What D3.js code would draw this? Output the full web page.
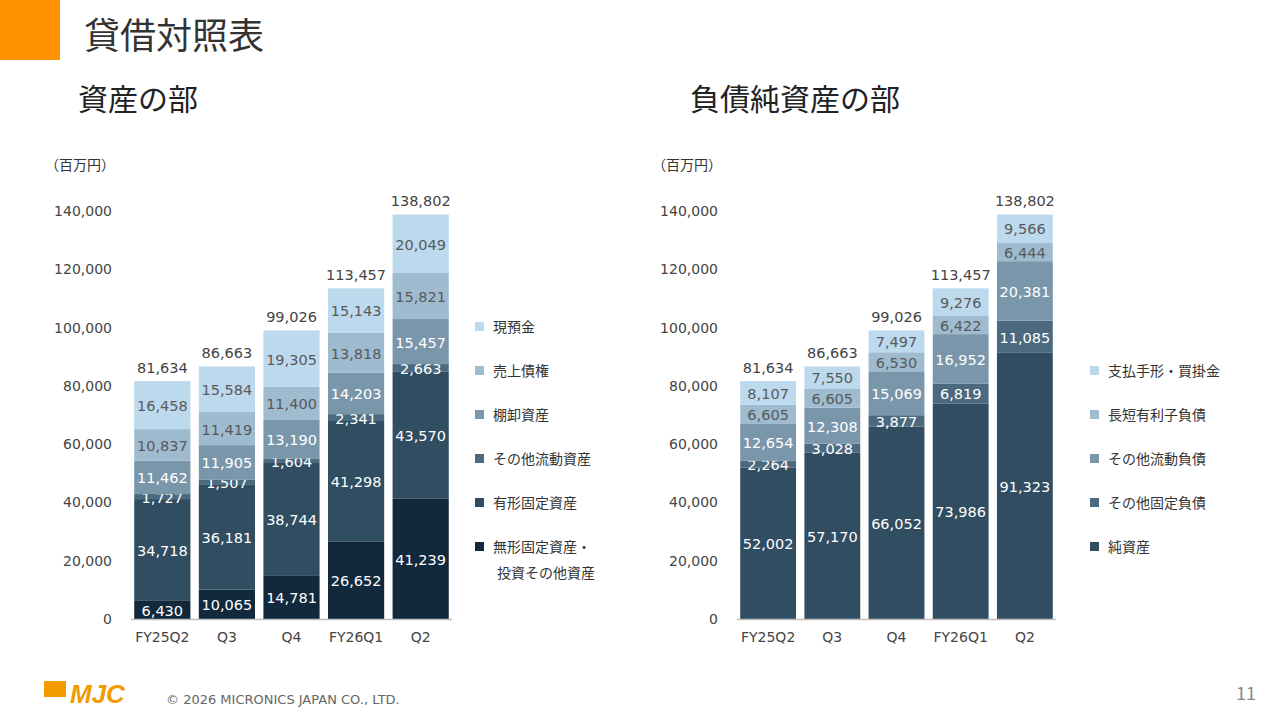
<!DOCTYPE html>
<html><head><meta charset="utf-8">
<script src="https://cdn.jsdelivr.net/npm/d3@7"></script>
<style>body{margin:0;background:#fff;font-family:"Noto Sans CJK JP","Noto Sans",sans-serif;}</style>
</head><body>
<div id="chart"></div>
<script>
var periods = ["FY25Q2", "Q3", "Q4", "FY26Q1", "Q2"];
var yTicks = [0, 20000, 40000, 60000, 80000, 100000, 120000, 140000];

// assets, bottom to top
var assetNames = ["無形固定資産・投資その他資産", "有形固定資産", "その他流動資産", "棚卸資産", "売上債権", "現預金"];
var intangible = [6430, 10065, 14781, 26652, 41239];
var tangible = [34718, 36181, 38744, 41298, 43570];
var otherCurAssets = [1727, 1507, 1604, 2341, 2663];
var inventory = [11462, 11905, 13190, 14203, 15457];
var receivables = [10837, 11419, 11400, 13818, 15821];
var cash = [16458, 15584, 19305, 15143, 20049];
var assetTotals = [81634, 86663, 99026, 113457, 138802];

// liabilities + net assets, bottom to top
var liabNames = ["純資産", "その他固定負債", "その他流動負債", "長短有利子負債", "支払手形・買掛金"];
var netAssets = [52002, 57170, 66052, 73986, 91323];
var otherFixedLiab = [2264, 3028, 3877, 6819, 11085];
var otherCurLiab = [12654, 12308, 15069, 16952, 20381];
var debt = [6605, 6605, 6530, 6422, 6444];
var payables = [8107, 7550, 7497, 9276, 9566];
var liabTotals = [81634, 86663, 99026, 113457, 138802];

var svg = d3.select("#chart").append("svg").attr("width", 1280).attr("height", 720);

svg.append("rect").attr("x", 0).attr("y", 0).attr("width", 60).attr("height", 60).attr("fill", "#ff9200");
svg.append("text").attr("x", 84).attr("y", 49).attr("font-size", 36).attr("fill", "#333").text("貸借対照表");
svg.append("text").attr("x", 78).attr("y", 110).attr("font-size", 30).attr("fill", "#222").text("資産の部");
svg.append("text").attr("x", 690).attr("y", 110).attr("font-size", 30).attr("fill", "#222").text("負債純資産の部");

var fmt = d3.format(",");

function drawChart(opt) {
  var g = svg.append("g");
  var y = d3.scaleLinear().domain([0, 140000]).range([619, 211]);
  var x = d3.scaleBand().domain(periods).range([opt.x0, opt.x1]).paddingInner(0.13).paddingOuter(0.05);

  g.append("text").attr("x", opt.unitX).attr("y", 170).attr("font-size", 14).attr("fill", "#333").text("（百万円）");

  g.selectAll(".yt").data(yTicks).enter().append("text")
    .attr("x", opt.tickX).attr("y", function (d) { return y(d) + 5; })
    .attr("text-anchor", "end").attr("font-size", 14).attr("fill", "#444")
    .attr("font-family", "Verdana, 'DejaVu Sans', sans-serif")
    .text(function (d) { return fmt(d); });

  var rows = periods.map(function (p, i) {
    var r = {period: p};
    opt.names.forEach(function (n, k) { r[n] = opt.series[k][i]; });
    return r;
  });
  var stack = d3.stack().keys(opt.names)(rows);

  stack.forEach(function (layer, k) {
    g.selectAll(null).data(layer).enter().append("rect")
      .attr("x", function (d) { return x(d.data.period); })
      .attr("width", x.bandwidth())
      .attr("y", function (d) { return y(d[1]); })
      .attr("height", function (d) { return y(d[0]) - y(d[1]); })
      .attr("fill", opt.colors[k]);
    g.selectAll(null).data(layer).enter().append("text")
      .attr("x", function (d) { return x(d.data.period) + x.bandwidth() / 2; })
      .attr("y", function (d) { return (y(d[0]) + y(d[1])) / 2 + 6; })
      .attr("text-anchor", "middle").attr("font-size", 14.5)
      .attr("font-family", "Verdana, 'DejaVu Sans', sans-serif")
      .attr("fill", opt.textColors[k])
      .text(function (d) { return fmt(d[1] - d[0]); });
  });

  g.selectAll(".tot").data(periods).enter().append("text")
    .attr("x", function (d) { return x(d) + x.bandwidth() / 2; })
    .attr("y", function (d, i) { return y(opt.totals[i]) - 8; })
    .attr("text-anchor", "middle").attr("font-size", 14.5).attr("fill", "#444")
    .attr("font-family", "Verdana, 'DejaVu Sans', sans-serif")
    .text(function (d, i) { return fmt(opt.totals[i]); });

  g.append("line").attr("x1", opt.x0).attr("x2", opt.x1).attr("y1", 619.5).attr("y2", 619.5)
    .attr("stroke", "#bfbfbf").attr("stroke-width", 1.5);

  g.selectAll(".xl").data(periods).enter().append("text")
    .attr("x", function (d) { return x(d) + x.bandwidth() / 2; })
    .attr("y", 642).attr("text-anchor", "middle").attr("font-size", 14).attr("fill", "#444")
    .attr("font-family", "Verdana, 'DejaVu Sans', sans-serif")
    .text(function (d) { return d; });

  // legend, bottom entry anchored at y=547
  var legend = opt.names.slice().reverse();
  var lcol = opt.colors.slice().reverse();
  var n0 = legend.length;
  legend.forEach(function (n, i) {
    var ly = 547 - (n0 - 1 - i) * 44;
    g.append("rect").attr("x", opt.legX).attr("y", ly - 5).attr("width", 9).attr("height", 9).attr("fill", lcol[i]);
    var parts = n.indexOf("・投資") > 0 ? [n.slice(0, n.indexOf("・") + 1), n.slice(n.indexOf("・") + 1)] : [n];
    parts.forEach(function (t, j) {
      g.append("text").attr("x", opt.legX + 18 + (j ? 4 : 0)).attr("y", ly + 5 + j * 26)
        .attr("font-size", 14).attr("fill", "#333").text(t);
    });
  });
}

drawChart({
  x0: 131, x1: 452, unitX: 45, tickX: 112, legX: 475,
  names: assetNames,
  series: [intangible, tangible, otherCurAssets, inventory, receivables, cash],
  totals: assetTotals,
  colors: ["#12293d", "#304d62", "#4b6a80", "#7a96ab", "#9fbbd0", "#bcd9ee"],
  textColors: ["#fff", "#fff", "#fff", "#fff", "#595959", "#595959"]
});

drawChart({
  x0: 737, x1: 1056, unitX: 652, tickX: 718, legX: 1090,
  names: liabNames,
  series: [netAssets, otherFixedLiab, otherCurLiab, debt, payables],
  totals: liabTotals,
  colors: ["#304d62", "#4b6a80", "#7a96ab", "#9fbbd0", "#bcd9ee"],
  textColors: ["#fff", "#fff", "#fff", "#595959", "#595959"]
});

// footer
svg.append("rect").attr("x", 44).attr("y", 681).attr("width", 22).attr("height", 16).attr("fill", "#f29b00");
svg.append("text").attr("x", 70).attr("y", 703).attr("font-size", 26).attr("font-weight", "bold")
  .attr("font-style", "italic").attr("fill", "#f29b00").attr("font-family", "'Liberation Sans', sans-serif").text("MJC");
svg.append("text").attr("x", 166).attr("y", 704).attr("font-size", 13).attr("fill", "#666")
  .attr("font-family", "Verdana, 'DejaVu Sans', sans-serif").text("© 2026 MICRONICS JAPAN CO., LTD.");
svg.append("text").attr("x", 1256).attr("y", 700).attr("text-anchor", "end").attr("font-size", 18).attr("fill", "#888").text("11");
</script>
</body></html>
